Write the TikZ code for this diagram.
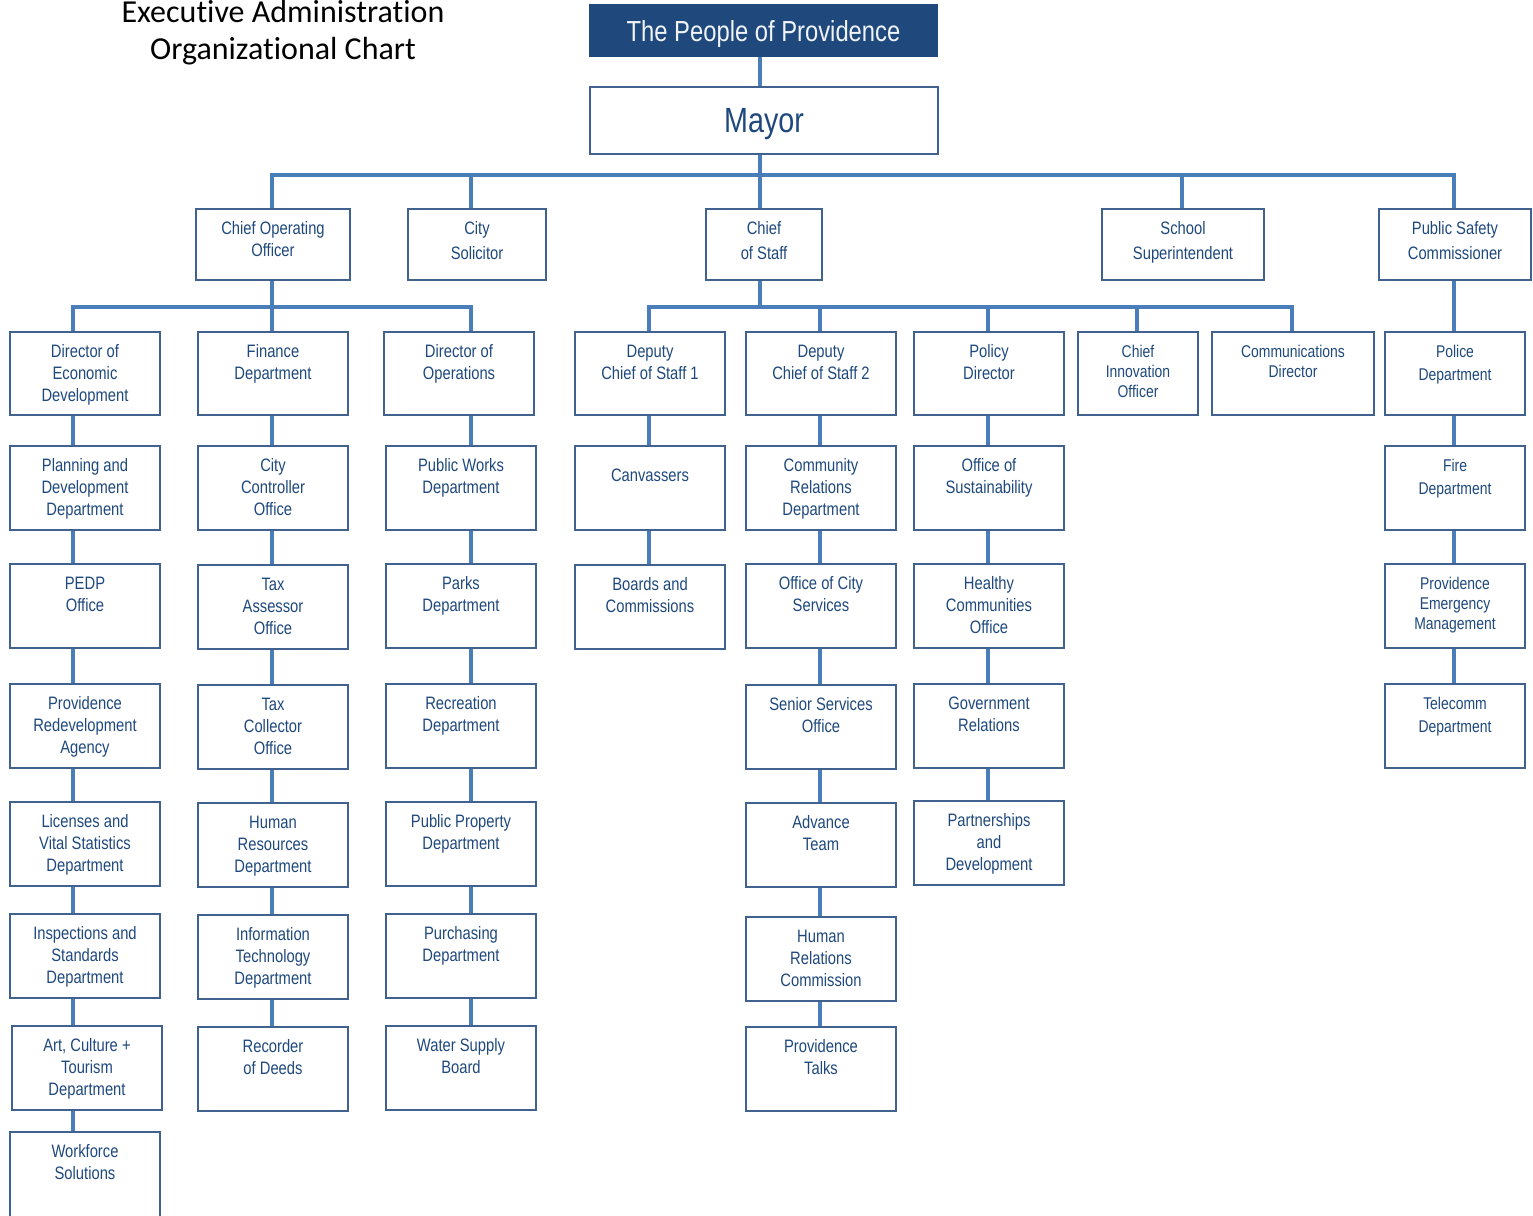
\documentclass[tikz,border=0pt]{standalone}
\usepackage{fontspec}
\setmainfont[FakeStretch=0.82]{Liberation Sans}
\newfontfamily\titlefont[Ligatures=NoCommon]{Carlito}
\definecolor{txtblue}{HTML}{1F497D}
\definecolor{boxline}{HTML}{41618F}
\definecolor{connblue}{HTML}{4A7EBB}
\tikzset{
  obox/.style={draw=boxline, line width=2pt, fill=white, rectangle, inner sep=0pt},
  otext/.style={anchor=north, inner sep=0pt, align=center, text=txtblue, yshift=-13.5pt, font=\fontsize{18}{22}\selectfont},
  rowone/.style={font=\fontsize{18}{25}\selectfont},
  smalla/.style={font=\fontsize{17}{20}\selectfont},
  smallb/.style={font=\fontsize{17}{23}\selectfont},
  conn/.style={draw=connblue, line width=3.3pt},
}
\newcommand\obx[7][]{%
  \node[obox, minimum width={#5-#3}, minimum height={#6-#4}, anchor=north west] (#2) at (#3,#4) {};
  \node[otext, #1] (#2-t) at (#2.north) {#7};}
\begin{document}
\begin{tikzpicture}[x=1pt, y=-1pt]
\useasboundingbox[fill=white] (0,0) rectangle (1533,1215);
% column coordinates
\coordinate (cA) at (73,0);
\coordinate (cB) at (272,0);
\coordinate (cC) at (471,0);
\coordinate (cD) at (649,0);
\coordinate (cE) at (820,0);
\coordinate (cF) at (988,0);
\coordinate (cG) at (1137,0);
\coordinate (cH) at (1292,0);
\coordinate (cI) at (1454,0);
\coordinate (cM) at (760,0);
\coordinate (cS) at (1182,0);
\coordinate (barone) at (0,175);
\coordinate (bartwo) at (0,307);

% title
\node[font=\titlefont\fontsize{32}{37}\selectfont, align=center, inner sep=0pt] (heading) at (283,33) {Executive Administration\\Organizational Chart};

% top boxes
\node[draw=txtblue, fill=txtblue, line width=1pt, minimum width=348pt, minimum height=52pt, anchor=north west, inner sep=0pt,
      text depth=0pt, text=white!94!txtblue, font=\fontsize{29}{34}\selectfont] (people) at (589,4) {The People of Providence};
\node[obox, minimum width=348pt, minimum height=67pt, anchor=north west, text depth=0pt, text=txtblue, font=\fontsize{35}{40}\selectfont] (mayor) at (589,86) {Mayor};

% row 1
\obx{coo}{195}{208}{349}{279}{Chief Operating\\Officer}
\obx[rowone]{sol}{407}{208}{545}{279}{City\\Solicitor}
\obx[rowone]{cos}{705}{208}{821}{279}{Chief\\of Staff}
\obx[rowone]{school}{1101}{208}{1263}{279}{School\\Superintendent}
\obx[rowone]{psc}{1378}{208}{1530}{279}{Public Safety\\Commissioner}

% row 2
\obx{ded}{9}{331}{159}{414}{Director of\\Economic\\Development}
\obx{fin}{197}{331}{347}{414}{Finance\\Department}
\obx{dops}{383}{331}{533}{414}{Director of\\Operations}
\obx{dcsa}{574}{331}{724}{414}{Deputy\\Chief of Staff 1}
\obx{dcsb}{745}{331}{895}{414}{Deputy\\Chief of Staff 2}
\obx{policy}{913}{331}{1063}{414}{Policy\\Director}
\obx[smalla]{cio}{1077}{331}{1197}{414}{Chief\\Innovation\\Officer}
\obx[smalla]{comm}{1211}{331}{1373}{414}{Communications\\Director}
\obx[smallb]{police}{1384}{331}{1524}{414}{Police\\Department}

% row 3
\obx{plan}{9}{445}{159}{529}{Planning and\\Development\\Department}
\obx{ctrl}{197}{445}{347}{529}{City\\Controller\\Office}
\obx{pw}{385}{445}{535}{529}{Public Works\\Department}
\obx[yshift=-10pt]{canv}{574}{445}{724}{529}{Canvassers}
\obx{cr}{745}{445}{895}{529}{Community\\Relations\\Department}
\obx{sust}{913}{445}{1063}{529}{Office of\\Sustainability}
\obx[smallb]{fire}{1384}{445}{1524}{529}{Fire\\Department}

% row 4
\obx{pedp}{9}{563}{159}{647}{PEDP\\Office}
\obx{tass}{197}{564}{347}{648}{Tax\\Assessor\\Office}
\obx{parks}{385}{563}{535}{647}{Parks\\Department}
\obx{boards}{574}{564}{724}{648}{Boards and\\Commissions}
\obx{ocs}{745}{563}{895}{647}{Office of City\\Services}
\obx{healthy}{913}{563}{1063}{647}{Healthy\\Communities\\Office}
\obx[smalla]{pem}{1384}{563}{1524}{647}{Providence\\Emergency\\Management}

% row 5
\obx{pra}{9}{683}{159}{767}{Providence\\Redevelopment\\Agency}
\obx{tcol}{197}{684}{347}{768}{Tax\\Collector\\Office}
\obx{rec}{385}{683}{535}{767}{Recreation\\Department}
\obx{senior}{745}{684}{895}{768}{Senior Services\\Office}
\obx{gov}{913}{683}{1063}{767}{Government\\Relations}
\obx[smallb]{tele}{1384}{683}{1524}{767}{Telecomm\\Department}

% row 6
\obx{lic}{9}{801}{159}{885}{Licenses and\\Vital Statistics\\Department}
\obx{hr}{197}{802}{347}{886}{Human\\Resources\\Department}
\obx{pp}{385}{801}{535}{885}{Public Property\\Department}
\obx{adv}{745}{802}{895}{886}{Advance\\Team}
\obx{part}{913}{800}{1063}{884}{Partnerships\\and\\Development}

% row 7
\obx{insp}{9}{913}{159}{997}{Inspections and\\Standards\\Department}
\obx{it}{197}{914}{347}{998}{Information\\Technology\\Department}
\obx{purch}{385}{913}{535}{997}{Purchasing\\Department}
\obx{hrc}{745}{916}{895}{1000}{Human\\Relations\\Commission}

% row 8
\obx{art}{11}{1025}{161}{1109}{Art, Culture +\\Tourism\\Department}
\obx{rod}{197}{1026}{347}{1110}{Recorder\\of Deeds}
\obx{water}{385}{1025}{535}{1109}{Water Supply\\Board}
\obx{talks}{745}{1026}{895}{1110}{Providence\\Talks}

% row 9
\obx{work}{9}{1131}{159}{1218}{Workforce\\Solutions}

% connectors: top
\draw[conn] (people.south -| cM) -- (mayor.north -| cM);
\draw[conn] (mayor.south -| cM) -- (cos.north -| cM);
\draw[conn] (coo.north -| cB) -- (cB |- barone) -- (cI |- barone) -- (psc.north -| cI);
\draw[conn] (cC |- barone) -- (sol.north -| cC);
\draw[conn] (cS |- barone) -- (school.north -| cS);

% COO branch
\draw[conn] (coo.south -| cB) -- (fin.north -| cB);
\draw[conn] (ded.north -| cA) -- (cA |- bartwo) -- (cC |- bartwo) -- (dops.north -| cC);

% Chief of staff branch
\draw[conn] (cos.south -| cM) -- (cM |- bartwo);
\draw[conn] (dcsa.north -| cD) -- (cD |- bartwo) -- (cH |- bartwo) -- (comm.north -| cH);
\draw[conn] (cE |- bartwo) -- (dcsb.north -| cE);
\draw[conn] (cF |- bartwo) -- (policy.north -| cF);
\draw[conn] (cG |- bartwo) -- (cio.north -| cG);

% Public safety
\draw[conn] (psc.south -| cI) -- (police.north -| cI);

% column chains
\foreach \a/\b in {ded/plan, plan/pedp, pedp/pra, pra/lic, lic/insp, insp/art, art/work}
  \draw[conn] (\a.south -| cA) -- (\b.north -| cA);
\foreach \a/\b in {fin/ctrl, ctrl/tass, tass/tcol, tcol/hr, hr/it, it/rod}
  \draw[conn] (\a.south -| cB) -- (\b.north -| cB);
\foreach \a/\b in {dops/pw, pw/parks, parks/rec, rec/pp, pp/purch, purch/water}
  \draw[conn] (\a.south -| cC) -- (\b.north -| cC);
\foreach \a/\b in {dcsa/canv, canv/boards}
  \draw[conn] (\a.south -| cD) -- (\b.north -| cD);
\foreach \a/\b in {dcsb/cr, cr/ocs, ocs/senior, senior/adv, adv/hrc, hrc/talks}
  \draw[conn] (\a.south -| cE) -- (\b.north -| cE);
\foreach \a/\b in {policy/sust, sust/healthy, healthy/gov, gov/part}
  \draw[conn] (\a.south -| cF) -- (\b.north -| cF);
\foreach \a/\b in {police/fire, fire/pem, pem/tele}
  \draw[conn] (\a.south -| cI) -- (\b.north -| cI);
\end{tikzpicture}
\end{document}
